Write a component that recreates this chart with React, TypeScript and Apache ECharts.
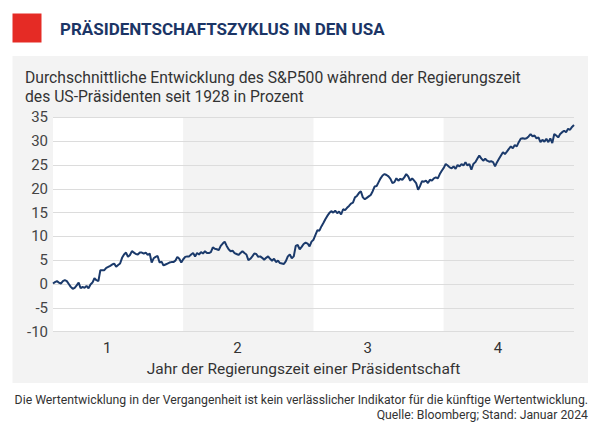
import { useEffect, useRef } from "react";
import * as echarts from "echarts";

// Jahr der Amtszeit (Kategorien der x-Achse)
const yearLabels = ["1", "2", "3", "4"];

// y-Achse in Prozent
const yMin = -10;
const yMax = 35;
const yStep = 5;

// Durchschnittliche Entwicklung, etwa wöchentlich, je Amtsjahr
const year1 = [
    0.1, 0.4, 0.6, 0.3, 0.1, 0.6, 0.8, 0.6, 0.0, -0.6,
    -1.0, -0.8, -0.3, 0.3, -0.9, -0.6, -0.8, -0.4, -0.9, -0.1,
    0.3, 1.2, 0.8, 0.6, 2.9, 2.9, 2.9, 3.4, 3.6, 3.8,
    4.1, 4.3, 3.6, 4.0, 4.3, 5.5, 6.2, 6.6, 5.7, 6.1,
    6.9, 6.6, 6.3, 6.2, 6.6, 6.6, 6.4, 6.6, 6.1, 6.4,
    4.5, 5.4, 5.7, 5.9, 4.5, 4.7, 3.9, 4.1, 4.3, 4.5,
    4.6, 4.6, 4.9, 5.7, 5.3, 4.5, 5.2, 5.7,
];
const year2 = [
    5.8, 5.8, 6.2, 6.5, 5.8, 6.5, 6.2, 6.7, 6.4, 6.9,
    6.5, 6.5, 6.7, 7.7, 7.4, 7.3, 7.1, 8.0, 8.5, 8.9,
    8.0, 7.3, 6.9, 7.0, 6.5, 6.3, 6.1, 6.5, 6.9, 6.5,
    6.2, 5.0, 5.3, 5.8, 6.4, 6.3, 5.7, 5.8, 5.5, 5.1,
    5.5, 5.8, 5.3, 4.9, 5.3, 4.6, 4.9, 4.4, 4.3, 4.2,
    4.8, 5.8, 6.2, 5.4, 5.8, 8.0, 8.2, 7.3, 7.8, 8.4,
    8.7, 8.5, 7.9, 8.9, 9.3,
];
const year3 = [
    10.3, 11.3, 11.2, 12.1, 12.8, 13.6, 14.3, 14.9, 15.3, 15.0,
    15.4, 14.9, 15.2, 14.6, 15.7, 15.5, 16.0, 16.4, 16.9, 17.1,
    18.2, 18.5, 19.1, 19.5, 18.2, 17.8, 18.1, 18.4, 18.7, 19.5,
    20.5, 20.6, 21.4, 22.2, 22.8, 23.1, 22.9, 22.6, 22.1, 21.2,
    21.4, 22.2, 21.7, 22.1, 21.9, 22.4, 23.1, 22.6, 21.7, 22.2,
    21.7, 21.2, 19.8, 20.6, 21.6, 21.5, 21.7, 21.2, 21.9, 21.7,
    22.2, 22.4, 22.2, 23.1, 23.8, 24.4,
];
const year4 = [
    25.2, 24.9, 24.5, 24.3, 24.7, 24.2, 25.0, 24.7, 25.2, 24.9,
    25.6, 24.9, 25.2, 24.0, 25.2, 25.6, 26.3, 27.0, 26.4, 25.9,
    26.3, 25.9, 25.7, 25.8, 25.6, 24.7, 25.6, 26.3, 27.0, 27.7,
    27.3, 27.8, 28.4, 28.9, 28.5, 29.2, 28.9, 29.8, 30.5, 30.6,
    30.5, 30.6, 31.0, 31.5, 31.0, 31.2, 30.6, 30.8, 29.8, 30.3,
    29.9, 30.5, 29.8, 30.6, 29.6, 31.5, 31.2, 30.8, 31.5, 31.9,
    32.2, 31.9, 32.6, 32.4, 33.0, 33.4,
];

const values = [...year1, ...year2, ...year3, ...year4];
const steps = values.map((_, i) => String(i));

const FONT = "Roboto, 'Noto Sans', sans-serif";

export default function App() {
    const chartRef = useRef<HTMLDivElement>(null);

    useEffect(() => {
        document.body.style.margin = "0";
        if (!chartRef.current) return;

        const chart = echarts.init(chartRef.current, undefined, { renderer: "svg" });

        chart.setOption({
            animation: false,
            backgroundColor: "#ffffff",
            textStyle: { fontFamily: FONT },
            graphic: [
                // grauer Kasten hinter dem Diagramm
                {
                    type: "rect",
                    z: -100,
                    shape: { x: 12.5, y: 56, width: 575.5, height: 327 },
                    style: { fill: "#f3f3f3" },
                },
                {
                    type: "rect",
                    shape: { x: 12.5, y: 13.5, width: 29, height: 29 },
                    style: { fill: "#e52b25" },
                },
                {
                    type: "text",
                    x: 60,
                    y: 29,
                    style: {
                        text: "PRÄSIDENTSCHAFTSZYKLUS IN DEN USA",
                        font: `bold 17px ${FONT}`,
                        fill: "#1b3566",
                        verticalAlign: "middle",
                    },
                },
                {
                    type: "text",
                    x: 25,
                    y: 77,
                    style: {
                        text: "Durchschnittliche Entwicklung des S&P500 während der Regierungszeit",
                        font: `15.7px ${FONT}`,
                        fill: "#333333",
                        verticalAlign: "middle",
                    },
                },
                {
                    type: "text",
                    x: 25,
                    y: 96,
                    style: {
                        text: "des US-Präsidenten seit 1928 in Prozent",
                        font: `15.7px ${FONT}`,
                        fill: "#333333",
                        verticalAlign: "middle",
                    },
                },
                {
                    type: "text",
                    x: 588,
                    y: 400,
                    style: {
                        text: "Die Wertentwicklung in der Vergangenheit ist kein verlässlicher Indikator für die künftige Wertentwicklung.",
                        font: `12.25px ${FONT}`,
                        fill: "#333333",
                        align: "right",
                        verticalAlign: "middle",
                    },
                },
                {
                    type: "text",
                    x: 588,
                    y: 415,
                    style: {
                        text: "Quelle: Bloomberg; Stand: Januar 2024",
                        font: `12.25px ${FONT}`,
                        fill: "#333333",
                        align: "right",
                        verticalAlign: "middle",
                    },
                },
            ],
            grid: { left: 53, right: 26, top: 117.4, bottom: 95.4 },
            xAxis: [
                {
                    type: "category",
                    data: steps,
                    boundaryGap: false,
                    show: false,
                },
                {
                    type: "category",
                    data: yearLabels,
                    boundaryGap: true,
                    position: "bottom",
                    z: -1,
                    axisLine: { show: false },
                    axisTick: { show: false },
                    axisLabel: {
                        color: "#333333",
                        fontSize: 15,
                        margin: 9,
                        padding: [0, 22, 0, 0],
                    },
                    splitLine: { show: false },
                    splitArea: {
                        show: true,
                        areaStyle: { color: ["#ffffff", "#f3f3f3"] },
                    },
                    name: "Jahr der Regierungszeit einer Präsidentschaft",
                    nameLocation: "middle",
                    nameGap: 25,
                    nameTextStyle: {
                        color: "#333333",
                        fontSize: 15.5,
                        padding: [0, 20, 0, 0],
                    },
                },
            ],
            yAxis: {
                type: "value",
                min: yMin,
                max: yMax,
                interval: yStep,
                z: 2,
                axisLine: { show: false },
                axisTick: { show: false },
                axisLabel: { color: "#444444", fontSize: 15, margin: 5 },
                splitLine: { lineStyle: { color: "#dcdcdc", width: 1 } },
            },
            series: [
                {
                    type: "line",
                    xAxisIndex: 0,
                    data: values,
                    symbol: "none",
                    lineStyle: { color: "#1b3a6b", width: 2 },
                    z: 5,
                },
            ],
        });

        return () => {
            chart.dispose();
        };
    }, []);

    return <div ref={chartRef} style={{ width: "600px", height: "427px" }} />;
}
